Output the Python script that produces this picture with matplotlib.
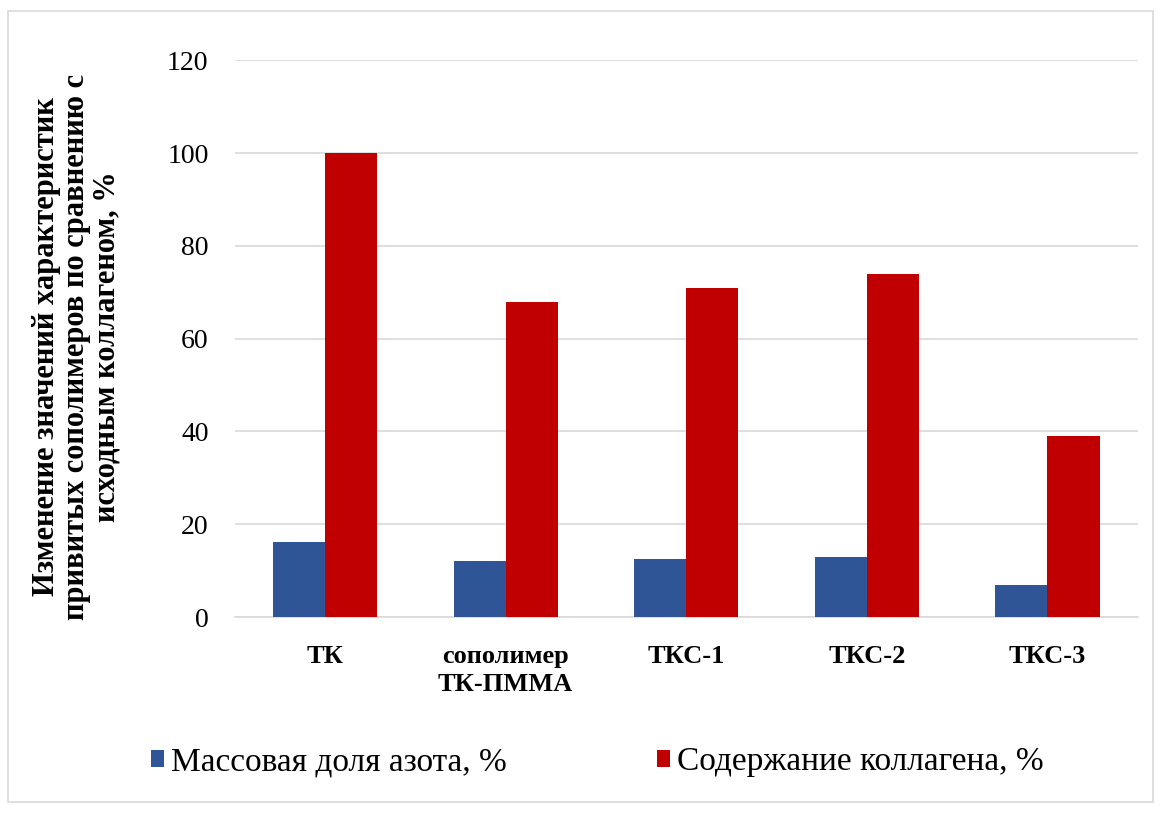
import matplotlib.pyplot as plt
import numpy as np
from matplotlib.patches import Rectangle

plt.rcParams.update({
    "font.family": ["Liberation Serif", "DejaVu Serif"],
})

# --- Data ---
categories = ["ТК", "сополимер\nТК-ПММА", "ТКС-1", "ТКС-2", "ТКС-3"]
nitrogen = [16.2, 12.0, 12.5, 12.9, 6.9]
collagen = [100, 68, 71, 74, 39]
series_names = ["Массовая доля азота, %", "Содержание коллагена, %"]
y_ticks = [0, 20, 40, 60, 80, 100, 120]

BLUE = "#2F5597"
RED = "#C00000"

fig = plt.figure(figsize=(11.62, 8.14), dpi=100)
ax = fig.add_axes([0.2022, 0.242, 0.7768, 0.684])

x = np.arange(len(categories))
w = 0.289
ax.bar(x - w / 2, nitrogen, width=w, color=BLUE, label=series_names[0], zorder=3)
ax.bar(x + w / 2, collagen, width=w, color=RED, label=series_names[1], zorder=3)

ax.set_xlim(-0.5, len(categories) - 0.5)
ax.set_ylim(0, 120)
ax.set_yticks(y_ticks)
ax.set_yticklabels([str(t) for t in y_ticks], fontsize=20)
ax.set_xticks(x)
ax.set_xticklabels(categories, fontsize=19, fontweight="bold", linespacing=1.3)
ax.tick_params(axis="both", length=0)
ax.tick_params(axis="y", pad=19)
ax.tick_params(axis="x", pad=20)

ax.grid(axis="y", color="#D9D9D9", lw=1.2, zorder=0)
for side in ["top", "right", "left"]:
    ax.spines[side].set_visible(False)
ax.spines["bottom"].set_color("#D9D9D9")
ax.spines["bottom"].set_linewidth(1.2)

# Axis title placed in figure coordinates
fig.text(0.066, 0.574,
         "Изменение значений характеристик\nпривитых сополимеров по сравнению с\nисходным коллагеном, %",
         rotation=90, ha="center", va="center", fontsize=22, fontweight="bold",
         linespacing=1.05)

fig.legend(loc="center", bbox_to_anchor=(0.514, 0.064), ncol=2, frameon=False,
           fontsize=24, handlelength=0.4, handleheight=0.4, handletextpad=0.2,
           columnspacing=4.5)

# Light frame around the whole chart
fig.patches.append(Rectangle((0.007, 0.015), 0.985, 0.972, transform=fig.transFigure,
                             fill=False, edgecolor="#D9D9D9", lw=1.2))

fig.savefig("out.png", dpi=100)
